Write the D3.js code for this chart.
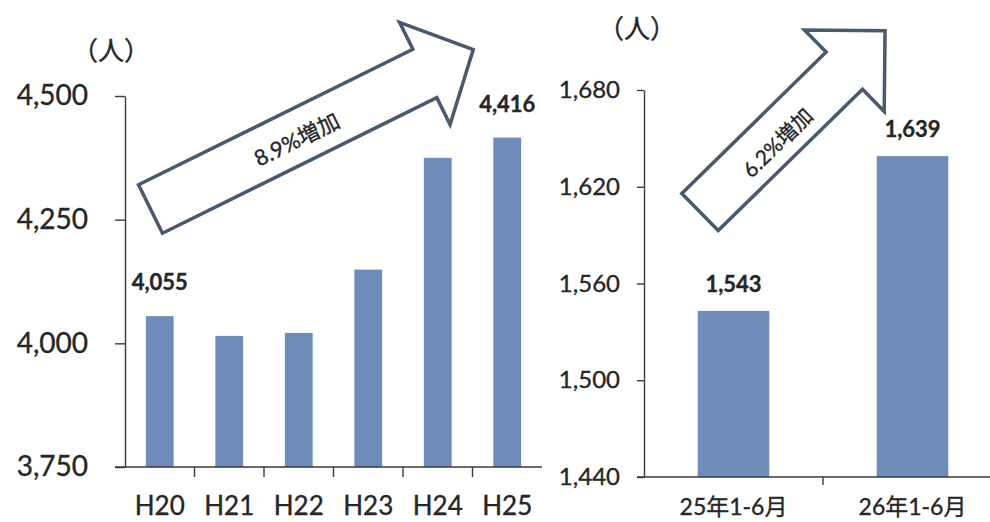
<!DOCTYPE html>
<html>
<head>
<meta charset="utf-8">
<script src="https://cdn.jsdelivr.net/npm/d3@7"></script>
<style>
  html, body { margin: 0; padding: 0; background: #fff; }
  svg { display: block; }
  text { font-family: Lato, "Noto Sans CJK JP", sans-serif; fill: #262626; stroke: #262626; stroke-width: 0.35px; }
</style>
</head>
<body>
<svg id="chart" width="990" height="522"></svg>
<script>
// Annual totals, H20–H25 (persons)
const yearCats = ["H20", "H21", "H22", "H23", "H24", "H25"];
const yearVals = [4055, 4015, 4021, 4149, 4375, 4416];
const yearTicks = [3750, 4000, 4250, 4500];
const yearLabeled = ["H20", "H25"];
const yearGrowth = "8.9%増加";

// First-half totals (January–June)
const halfCats = ["25年1-6月", "26年1-6月"];
const halfVals = [1543, 1639];
const halfTicks = [1440, 1500, 1560, 1620, 1680];
const halfGrowth = "6.2%増加";

const unitLabel = "（人）";

const barColor = "#6d8cb7";
const axisColor = "#3a3a3a";
const arrowStroke = "#4a596b";
const fmt = d3.format(",");

const svg = d3.select("#chart");

// Block arrow outline: tail centre, angle, shaft length/half-width, head length/half-width
function arrowPath(cx, cy, angleDeg, shaftLen, shaftHalf, headLen, headHalf) {
  const a = angleDeg * Math.PI / 180;
  const u = [Math.cos(a), Math.sin(a)];
  const n = [-Math.sin(a), Math.cos(a)];
  const p = (s, t) => [cx + u[0] * s + n[0] * t, cy + u[1] * s + n[1] * t];
  const pts = [
    p(0, -shaftHalf), p(shaftLen, -shaftHalf), p(shaftLen, -headHalf),
    p(shaftLen + headLen, 0),
    p(shaftLen, headHalf), p(shaftLen, shaftHalf), p(0, shaftHalf)
  ];
  return d3.line()(pts) + "Z";
}

function drawArrow(g, cfg, label) {
  g.append("path")
    .attr("d", arrowPath(cfg.cx, cfg.cy, cfg.angle, cfg.shaft, cfg.shaftHalf, cfg.head, cfg.headHalf))
    .attr("fill", "#fff")
    .attr("stroke", arrowStroke)
    .attr("stroke-width", 3.5)
    .attr("stroke-linejoin", "miter");
  const a = cfg.angle * Math.PI / 180;
  const s = cfg.textAt, t = cfg.textOff;
  const tx = cfg.cx + Math.cos(a) * s - Math.sin(a) * t;
  const ty = cfg.cy + Math.sin(a) * s + Math.cos(a) * t;
  g.append("text")
    .attr("transform", `translate(${tx},${ty}) rotate(${cfg.angle})`)
    .attr("text-anchor", "middle")
    .attr("dominant-baseline", "central")
    .attr("font-size", cfg.fontSize)
    .text(label);
}

function drawPanel(opt) {
  const g = svg.append("g");
  const x = d3.scaleBand().domain(opt.cats).range([opt.x0, opt.x1]).paddingInner(opt.pad).paddingOuter(opt.pad / 2);
  const y = d3.scaleLinear().domain([opt.ticks[0], opt.ticks[opt.ticks.length - 1]]).range([opt.yBase, opt.yTop]);

  // bars
  g.selectAll("rect.bar").data(opt.cats).join("rect")
    .attr("class", "bar")
    .attr("x", d => x(d))
    .attr("width", x.bandwidth())
    .attr("y", (d, i) => y(opt.vals[i]))
    .attr("height", (d, i) => y(opt.ticks[0]) - y(opt.vals[i]))
    .attr("fill", barColor);

  // y axis
  const yAxis = g.append("g")
    .attr("transform", `translate(${opt.x0},0)`)
    .call(d3.axisLeft(y).tickValues(opt.ticks).tickFormat(fmt)
      .tickSize(opt.yTickSize).tickPadding(opt.yTickPad).tickSizeOuter(0));
  yAxis.selectAll("path, line").attr("stroke", axisColor).attr("stroke-width", 1.4);
  yAxis.selectAll("text").attr("font-size", opt.yFont).attr("fill", "#262626").attr("font-family", null);

  // x axis: baseline, ticks at band boundaries, centred labels
  const step = x.step();
  const xAxis = g.append("g");
  xAxis.append("line")
    .attr("x1", opt.x0 - opt.yTickSize).attr("x2", opt.x1)
    .attr("y1", opt.yBase).attr("y2", opt.yBase)
    .attr("stroke", axisColor).attr("stroke-width", 1.4);
  xAxis.selectAll("line.tk").data(d3.range(1, opt.cats.length)).join("line")
    .attr("class", "tk")
    .attr("x1", i => opt.x0 + i * step).attr("x2", i => opt.x0 + i * step)
    .attr("y1", opt.yBase).attr("y2", opt.yBase + opt.xTickLen)
    .attr("stroke", axisColor).attr("stroke-width", 1.4);
  xAxis.selectAll("text").data(opt.cats).join("text")
    .attr("x", d => x(d) + x.bandwidth() / 2)
    .attr("y", opt.xLabelY)
    .attr("text-anchor", "middle")
    .attr("font-size", opt.xFont)
    .text(d => d);

  // value labels
  g.selectAll("text.val").data(opt.cats.filter(c => opt.labeled.includes(c))).join("text")
    .attr("class", "val")
    .attr("x", d => x(d) + x.bandwidth() / 2)
    .attr("y", d => y(opt.vals[opt.cats.indexOf(d)]) - opt.valGap)
    .attr("text-anchor", "middle")
    .attr("font-size", opt.valFont)
    .attr("font-weight", "bold")
    .text(d => fmt(opt.vals[opt.cats.indexOf(d)]));

  // unit
  g.append("text")
    .attr("x", opt.unitX).attr("y", opt.unitY)
    .attr("text-anchor", "middle")
    .attr("font-size", opt.unitFont)
    .text(unitLabel);

  drawArrow(g, opt.arrow, opt.growth);
}

drawPanel({
  cats: yearCats, vals: yearVals, ticks: yearTicks, labeled: yearLabeled, growth: yearGrowth,
  x0: 125, x1: 542, pad: 0.6, yBase: 467, yTop: 96,
  yTickSize: 10, yTickPad: 27, yFont: 28,
  xTickLen: 10, xLabelY: 515, xFont: 26,
  valGap: 26, valFont: 22,
  unitX: 111, unitY: 60, unitFont: 26,
  arrow: { cx: 150.5, cy: 209, angle: -26.3, shaft: 306, shaftHalf: 27, head: 54, headHalf: 57,
           textAt: 162, textOff: 2, fontSize: 22 }
});

drawPanel({
  cats: halfCats, vals: halfVals, ticks: halfTicks, labeled: halfCats, growth: halfGrowth,
  x0: 644, x1: 1002, pad: 0.6, yBase: 477, yTop: 90,
  yTickSize: 7, yTickPad: 17, yFont: 24,
  xTickLen: 8, xLabelY: 515, xFont: 23,
  valGap: 19, valFont: 22,
  unitX: 637, unitY: 38, unitFont: 26,
  arrow: { cx: 700, cy: 212, angle: -44.4, shaft: 202, shaftHalf: 26, head: 57, headHalf: 57,
           textAt: 104, textOff: 4, fontSize: 21 }
});
</script>
</body>
</html>
